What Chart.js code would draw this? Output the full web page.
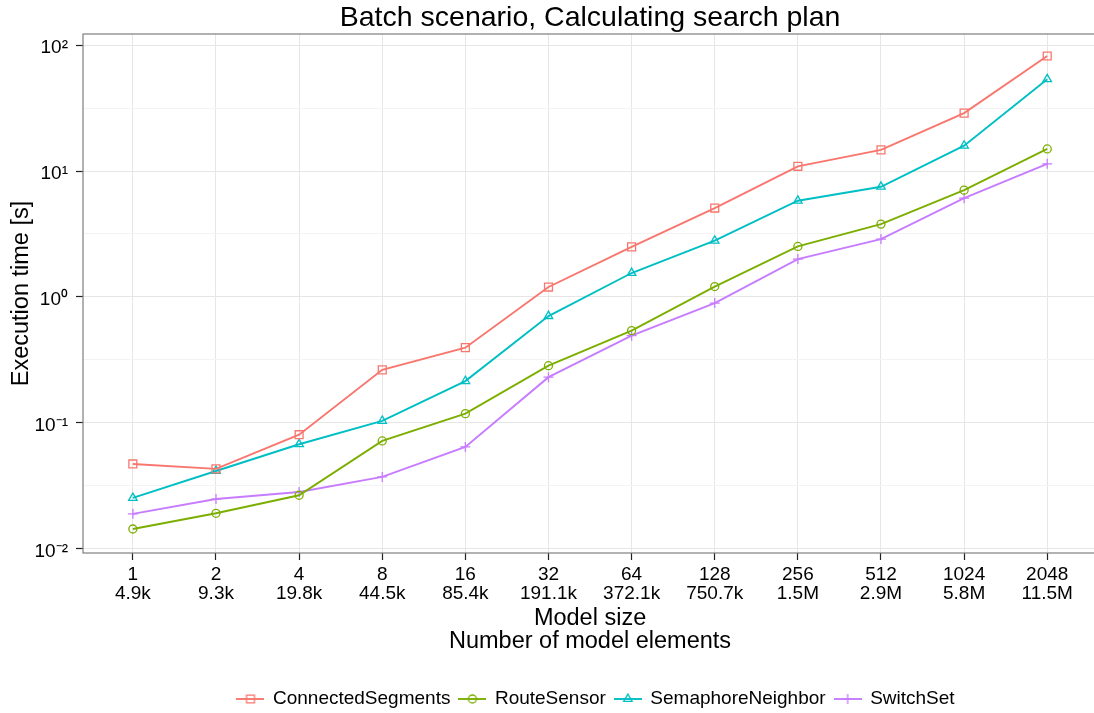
<!DOCTYPE html>
<html>
<head>
<meta charset="utf-8">
<script src="https://cdn.jsdelivr.net/npm/chart.js@4"></script>
<style>
  html, body { margin: 0; padding: 0; overflow: hidden; background: #fff; }
  #wrap { width: 1104px; height: 730px; }
</style>
</head>
<body>
<div id="wrap"><canvas id="c" width="1104" height="730"></canvas></div>
<script>
// Model sizes (x axis, two-line labels)
const modelSizes    = ['1', '2', '4', '8', '16', '32', '64', '128', '256', '512', '1024', '2048'];
const elementCounts = ['4.9k', '9.3k', '19.8k', '44.5k', '85.4k', '191.1k', '372.1k', '750.7k', '1.5M', '2.9M', '5.8M', '11.5M'];

// Execution times in seconds
const connectedSegments = [0.0473, 0.0432, 0.0807, 0.264, 0.396, 1.20, 2.50, 5.08, 10.9, 14.7, 28.8, 81.8];
const routeSensor       = [0.0144, 0.0192, 0.0267, 0.072, 0.1186, 0.285, 0.541, 1.21, 2.52, 3.79, 7.05, 14.96];
const semaphoreNeighbor = [0.0254, 0.0416, 0.0678, 0.104, 0.215, 0.706, 1.55, 2.80, 5.81, 7.50, 15.9, 53.5];
const switchSet         = [0.0190, 0.0249, 0.0283, 0.0373, 0.0645, 0.231, 0.493, 0.895, 2.00, 2.88, 6.09, 11.4];

const seriesNames  = ['ConnectedSegments', 'RouteSensor', 'SemaphoreNeighbor', 'SwitchSet'];
const seriesValues = [connectedSegments, routeSensor, semaphoreNeighbor, switchSet];
const seriesColors = ['#F8766D', '#7CAE00', '#00BFC4', '#C77CFF'];
const seriesShapes = ['rect', 'circle', 'triangle', 'cross'];
const shapeRadius  = [5.6, 4, 4.9, 5];

// Log axis: labelled decades plus faint half-decade grid lines
const yMajorTicks  = [0.01, 0.1, 1, 10, 100];
const yTickLabels  = ['10\u207B\u00B2', '10\u207B\u00B9', '10\u2070', '10\u00B9', '10\u00B2'];
const yMinorTicks  = yMajorTicks.slice(0, -1).map(v => v * Math.sqrt(10));

const FONT = 'Liberation Sans, Arial, Helvetica, sans-serif';
const LINE_W = 1.9;
const isMajor = v => yMajorTicks.some(m => Math.abs(Math.log10(v) - Math.log10(m)) < 1e-6);

// Legend key: a short line segment with the series marker on it
function legendKey(i) {
  const cv = document.createElement('canvas');
  cv.width = 28; cv.height = 20;
  const g = cv.getContext('2d');
  g.strokeStyle = seriesColors[i];
  g.lineWidth = LINE_W;
  g.beginPath(); g.moveTo(0, 10); g.lineTo(28, 10); g.stroke();
  g.lineWidth = 1.3;
  const cx = 14, cy = 10, r = shapeRadius[i];
  g.beginPath();
  if (seriesShapes[i] === 'rect') {
    const s = r * Math.SQRT1_2;
    g.rect(cx - s, cy - s, 2 * s, 2 * s);
  } else if (seriesShapes[i] === 'circle') {
    g.arc(cx, cy, r, 0, Math.PI * 2);
  } else if (seriesShapes[i] === 'triangle') {
    for (let k = 0; k < 3; k++) {
      const a = k * 2 * Math.PI / 3;
      const px = cx + Math.sin(a) * r, py = cy - Math.cos(a) * r;
      if (k === 0) g.moveTo(px, py); else g.lineTo(px, py);
    }
    g.closePath();
  } else {
    g.moveTo(cx, cy - r); g.lineTo(cx, cy + r);
    g.moveTo(cx - r, cy); g.lineTo(cx + r, cy);
  }
  g.stroke();
  return cv;
}
const legendKeys = seriesNames.map((_, i) => legendKey(i));

// Grey frame around the plotting panel; legend and title nudged into place
const panelBorder = {
  id: 'panelBorder',
  afterLayout(chart) {
    if (chart.legend) {
      chart.legend.left += 6; chart.legend.right += 6;
      chart.legend.top += 2; chart.legend.bottom += 2;
    }
    if (chart.titleBlock) { chart.titleBlock.top += 1; chart.titleBlock.bottom += 1; }
  },
  afterDatasetsDraw(chart) {
    const { ctx, chartArea: a } = chart;
    ctx.save();
    ctx.strokeStyle = '#7f7f7f';
    ctx.lineWidth = 1.2;
    ctx.strokeRect(a.left, a.top, a.right - a.left, a.bottom - a.top);
    ctx.restore();
  }
};

const datasets = seriesNames.map((name, i) => ({
  label: name,
  data: seriesValues[i].map((v, k) => ({ x: k, y: v })),
  borderColor: seriesColors[i],
  backgroundColor: seriesColors[i],
  borderWidth: LINE_W,
  pointStyle: seriesShapes[i],
  pointRadius: shapeRadius[i],
  pointBorderWidth: 1.3,
  pointBackgroundColor: 'rgba(0,0,0,0)',
  pointBorderColor: seriesColors[i],
  tension: 0,
  fill: false
}));

new Chart(document.getElementById('c'), {
  type: 'line',
  data: { datasets },
  plugins: [panelBorder],
  options: {
    responsive: false,
    animation: false,
    events: [],
    layout: { padding: { left: 0, right: 3, top: 0, bottom: 13.5 } },
    plugins: {
      tooltip: { enabled: false },
      title: {
        display: true,
        text: 'Batch scenario, Calculating search plan',
        fullSize: false,
        color: '#000',
        font: { family: FONT, size: 28.5, weight: 'normal', lineHeight: 34 / 28.5 },
        padding: { top: 0, bottom: 0 }
      },
      legend: {
        position: 'bottom',
        fullSize: false,
        labels: {
          usePointStyle: true,
          pointStyleWidth: 26,
          padding: 9,
          color: '#000',
          font: { family: FONT, size: 19 },
          generateLabels: (chart) => chart.data.datasets.map((ds, i) => ({
            text: ds.label,
            pointStyle: legendKeys[i],
            fillStyle: 'rgba(0,0,0,0)',
            strokeStyle: seriesColors[i],
            lineWidth: 0,
            hidden: false,
            datasetIndex: i
          }))
        }
      }
    },
    scales: {
      x: {
        type: 'linear',
        min: -0.6,
        max: 11.6,
        afterFit: (s) => { s.height = 125.5; },
        afterBuildTicks: (s) => { s.ticks = modelSizes.map((_, k) => ({ value: k })); },
        border: { display: false },
        grid: { color: '#e6e6e6', lineWidth: 1, tickColor: '#222', tickLength: 7, tickWidth: 1.2 },
        ticks: {
          autoSkip: false,
          maxRotation: 0,
          padding: 5.5,
          color: '#000',
          font: { family: FONT, size: 19, lineHeight: 1.0 },
          callback: (v) => [modelSizes[v], elementCounts[v]]
        },
        title: {
          display: true,
          text: ['Model size', 'Number of model elements'],
          color: '#000',
          font: { family: FONT, size: 23.5, lineHeight: 23 / 23.5 },
          padding: { top: 0, bottom: 25 }
        }
      },
      y: {
        type: 'logarithmic',
        min: 0.00929,
        max: 122.3,
        afterFit: (s) => { s.width = 83; },
        afterBuildTicks: (s) => {
          s.ticks = yMajorTicks.concat(yMinorTicks).sort((a, b) => a - b).map(v => ({ value: v }));
        },
        border: { display: false },
        grid: {
          color: (c) => (c.tick && isMajor(c.tick.value)) ? '#e6e6e6' : '#f3f3f3',
          tickColor: (c) => (c.tick && isMajor(c.tick.value)) ? '#222' : 'rgba(0,0,0,0)',
          lineWidth: 1,
          tickLength: 7,
          tickWidth: 1.2
        },
        ticks: {
          autoSkip: false,
          padding: 8,
          labelOffset: 3,
          color: '#000',
          font: { family: FONT, size: 19 },
          callback: (v) => {
            const idx = yMajorTicks.findIndex(m => Math.abs(Math.log10(v) - Math.log10(m)) < 1e-6);
            return idx >= 0 ? yTickLabels[idx] : '';
          }
        },
        title: {
          display: true,
          text: 'Execution time [s]',
          color: '#000',
          font: { family: FONT, size: 23.5, lineHeight: 23 / 23.5 },
          padding: { top: 10.5, bottom: 0 }
        }
      }
    }
  }
});
</script>
</body>
</html>
